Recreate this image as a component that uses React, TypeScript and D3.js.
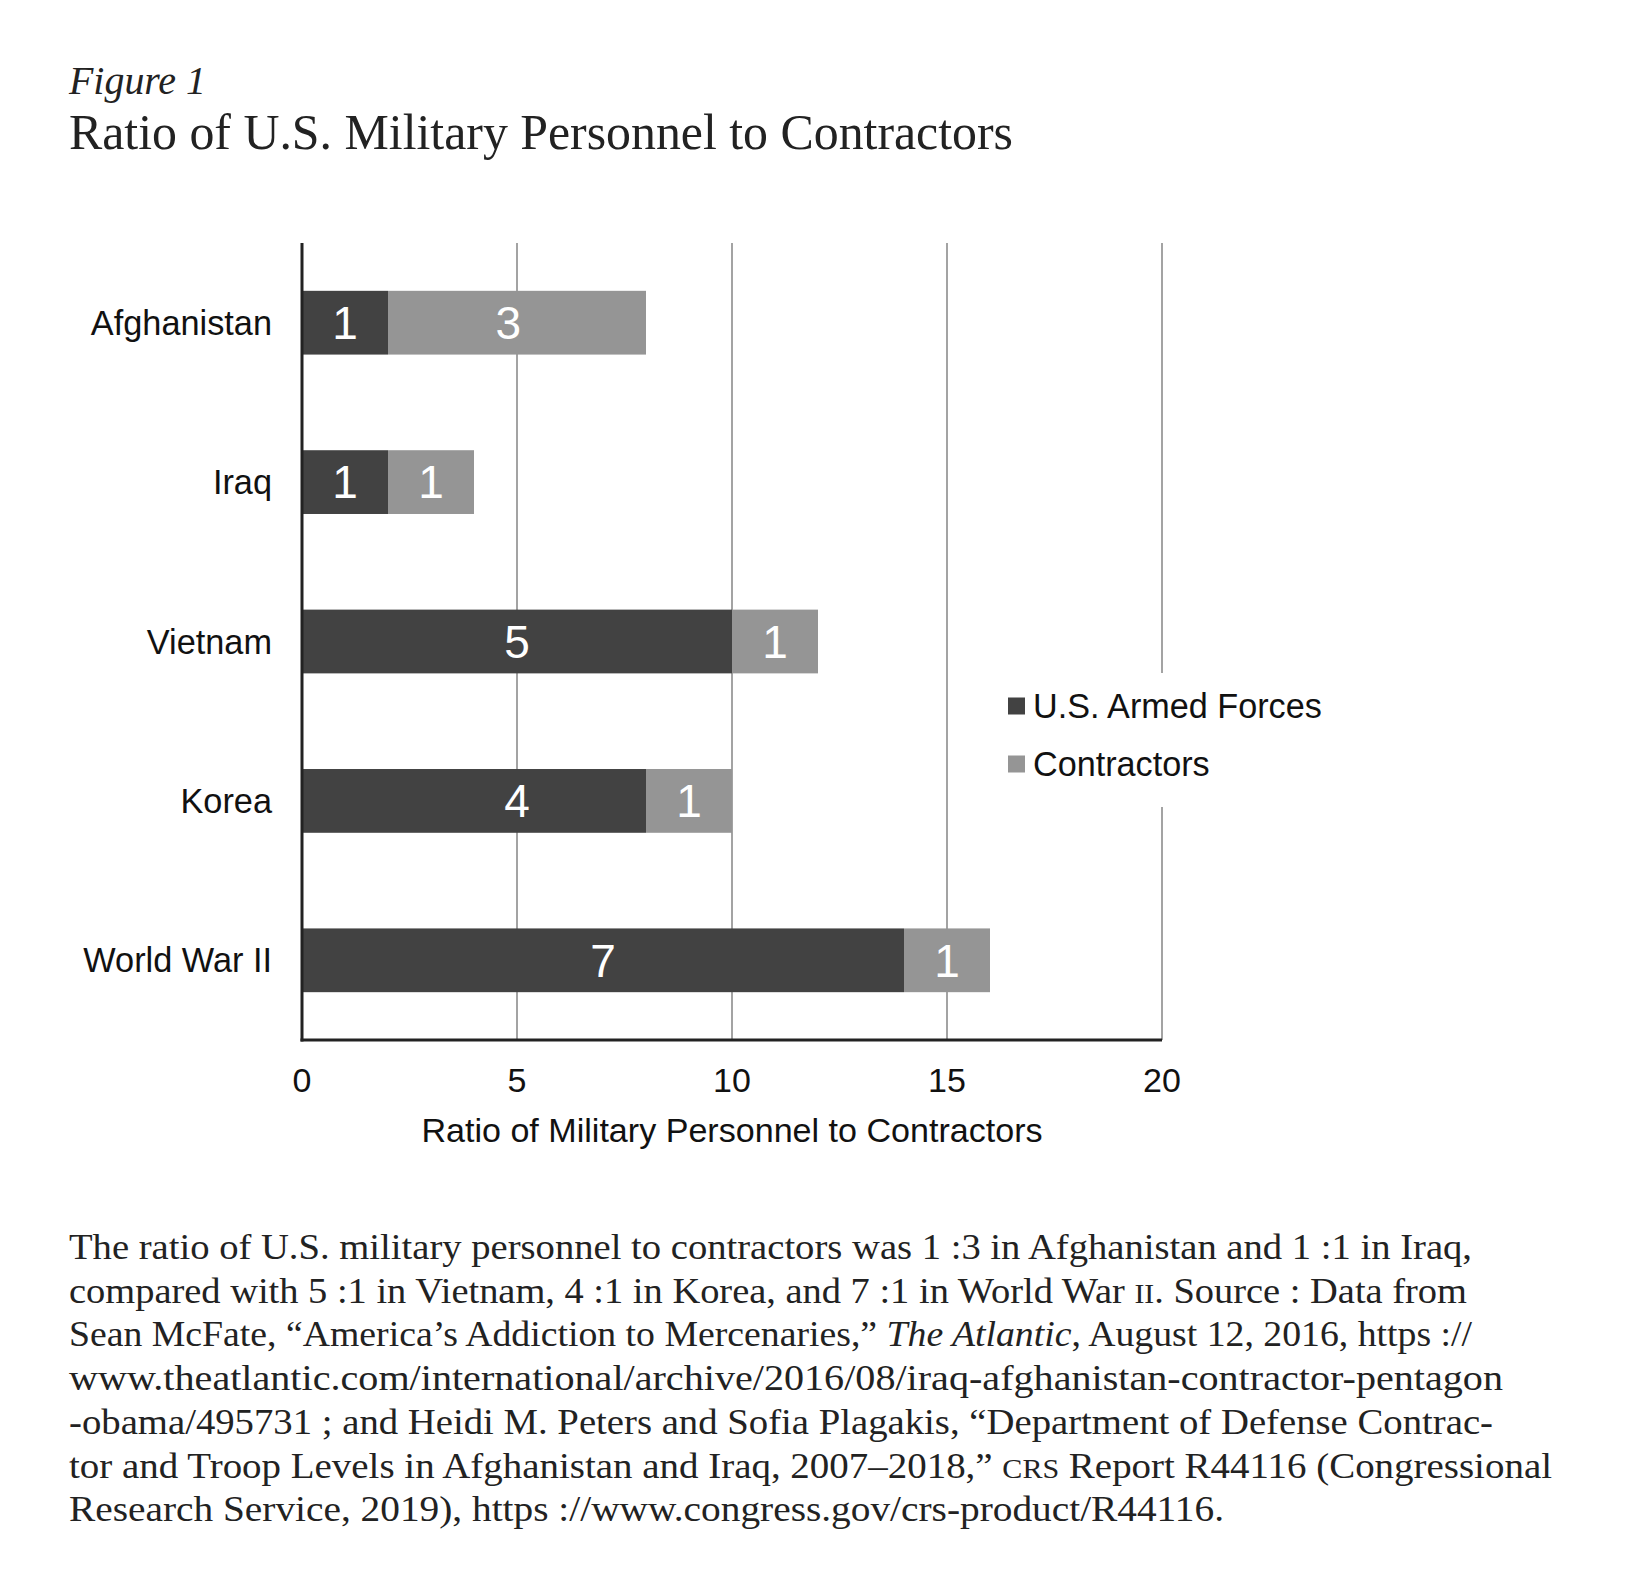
import React from 'react';
import * as d3 from 'd3';

const categories = ['Afghanistan', 'Iraq', 'Vietnam', 'Korea', 'World War II'];
const armedForces = [2, 2, 10, 8, 14];
const contractors = [6, 2, 2, 2, 2];
const armedLabels = ['1', '1', '5', '4', '7'];
const contractorLabels = ['3', '1', '1', '1', '1'];
// value (on the x scale) where each label sits, as placed in the original chart
const armedLabelAt = [1, 1, 5, 5, 7];
const contractorLabelAt = [4.8, 3, 11, 9, 15];
const xTicks = [0, 5, 10, 15, 20];
const seriesNames = ['U.S. Armed Forces', 'Contractors'];
const seriesColors = ['#424242', '#959595'];

const SANS = '"Liberation Sans", Arial, sans-serif';
const SERIF = '"Liberation Serif", "Times New Roman", serif';

const W = 1637;
const H = 1593;

export default function App() {
  const x = d3.scaleLinear().domain([0, 20]).range([302, 1162]);
  const y = d3
    .scaleBand<string>()
    .domain(categories)
    .range([243, 1040])
    .paddingInner(0.6)
    .paddingOuter(0.3);

  const rows = categories.map((c, i) => ({
    cat: c,
    armed: armedForces[i],
    contr: contractors[i],
  }));
  const stack = d3.stack<any>().keys(['armed', 'contr'])(rows);
  const labelSets = [armedLabels, contractorLabels];
  const labelPos = [armedLabelAt, contractorLabelAt];

  const [y0, y1] = y.range();

  const captionLines: { parts: { t: string; italic?: boolean; small?: boolean }[]; w: number }[] = [
    { parts: [{ t: 'The ratio of U.S. military personnel to contractors was 1 :3 in Afghanistan and 1 :1 in Iraq,' }], w: 1403 },
    {
      parts: [
        { t: 'compared with 5 :1 in Vietnam, 4 :1 in Korea, and 7 :1 in World War ' },
        { t: 'II', small: true },
        { t: '. Source : Data from' },
      ],
      w: 1398,
    },
    {
      parts: [
        { t: 'Sean McFate, \u201CAmerica\u2019s Addiction to Mercenaries,\u201D ' },
        { t: 'The Atlantic', italic: true },
        { t: ', August 12, 2016, https ://' },
      ],
      w: 1403,
    },
    { parts: [{ t: 'www.theatlantic.com/international/archive/2016/08/iraq-afghanistan-contractor-pentagon' }], w: 1434 },
    { parts: [{ t: '-obama/495731 ; and Heidi M. Peters and Sofia Plagakis, \u201CDepartment of Defense Contrac-' }], w: 1424 },
    {
      parts: [
        { t: 'tor and Troop Levels in Afghanistan and Iraq, 2007\u20132018,\u201D ' },
        { t: 'CRS', small: true },
        { t: ' Report R44116 (Congressional' },
      ],
      w: 1483,
    },
    { parts: [{ t: 'Research Service, 2019), https ://www.congress.gov/crs-product/R44116.' }], w: 1155 },
  ];
  const captionBase = 1259;
  const captionStep = 43.7;

  return (
    <svg
      width={W}
      height={H}
      viewBox={`0 0 ${W} ${H}`}
      style={{ position: 'absolute', left: 0, top: 0, background: '#fff' }}
    >
      <rect x={0} y={0} width={W} height={H} fill="#fff" />

      {/* Titles */}
      <text x={69} y={94} fontFamily={SERIF} fontStyle="italic" fontSize={40} fill="#222" textLength={137} lengthAdjust="spacingAndGlyphs">
        Figure 1
      </text>
      <text x={69} y={149} fontFamily={SERIF} fontSize={50} fill="#222" textLength={944} lengthAdjust="spacingAndGlyphs">
        Ratio of U.S. Military Personnel to Contractors
      </text>

      {/* Gridlines */}
      {xTicks.filter((t) => t > 0).map((t) => (
        <line key={'g' + t} x1={x(t)} x2={x(t)} y1={y0} y2={y1} stroke="#a3a3a3" strokeWidth={2} />
      ))}

      {/* Bars */}
      {stack.map((s, si) => (
        <g key={s.key}>
          {s.map((d: any, i: number) => {
            const cat = categories[i];
            const bx = x(d[0]);
            const bw = x(d[1]) - x(d[0]);
            const by = y(cat)!;
            const bh = y.bandwidth();
            return (
              <rect key={cat} x={bx} y={by} width={bw} height={bh} fill={seriesColors[si]} />
            );
          })}
        </g>
      ))}
      {labelSets.map((labels, si) =>
        labels.map((lab, i) => (
          <text
            key={si + '-' + i}
            x={x(labelPos[si][i])}
            y={y(categories[i])! + y.bandwidth() / 2}
            dy="0.355em"
            textAnchor="middle"
            fontFamily={SANS}
            fontSize={46}
            fill="#fff"
          >
            {lab}
          </text>
        ))
      )}

      {/* Axes lines */}
      <line x1={x(0)} x2={x(0)} y1={y0} y2={y1 + 1.5} stroke="#222" strokeWidth={3} />
      <line x1={x(0) - 1.5} x2={x(20)} y1={y1} y2={y1} stroke="#222" strokeWidth={3} />

      {/* Category labels */}
      {categories.map((c) => (
        <text
          key={c}
          x={272}
          y={y(c)! + y.bandwidth() / 2}
          dy="0.355em"
          textAnchor="end"
          fontFamily={SANS}
          fontSize={34.3}
          fill="#111"
        >
          {c}
        </text>
      ))}

      {/* X tick labels */}
      {xTicks.map((t) => (
        <text key={'t' + t} x={x(t)} y={1080} dy="0.355em" textAnchor="middle" fontFamily={SANS} fontSize={34} fill="#111">
          {t}
        </text>
      ))}
      <text x={x(10)} y={1130} dy="0.355em" textAnchor="middle" fontFamily={SANS} fontSize={34.1} fill="#111">
        Ratio of Military Personnel to Contractors
      </text>

      {/* Legend */}
      <rect x={995} y={673} width={340} height={134} fill="#fff" />
      {seriesNames.map((n, i) => {
        const cy = 706 + i * 58;
        return (
          <g key={n}>
            <rect x={1008} y={cy - 8.5} width={17} height={17} fill={seriesColors[i]} />
            <text x={1033} y={cy} dy="0.355em" fontFamily={SANS} fontSize={34.2} fill="#111">
              {n}
            </text>
          </g>
        );
      })}

      {/* Caption */}
      {captionLines.map((ln, li) => (
        <text
          key={li}
          x={69}
          y={captionBase + li * captionStep}
          fontFamily={SERIF}
          fontSize={35}
          fill="#222"
          textLength={ln.w}
          lengthAdjust="spacingAndGlyphs"
        >
          {ln.parts.map((p, pi) => (
            <tspan key={pi} fontStyle={p.italic ? 'italic' : undefined} fontSize={p.small ? 27 : undefined}>
              {p.t}
            </tspan>
          ))}
        </text>
      ))}
    </svg>
  );
}
